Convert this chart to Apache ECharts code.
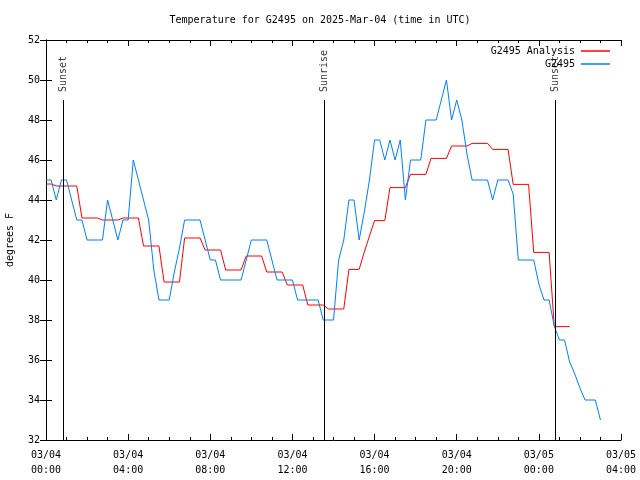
<!DOCTYPE html>
<html>
<head>
<meta charset="utf-8">
<script src="https://cdn.jsdelivr.net/npm/echarts@6/dist/echarts.min.js"></script>
<style>html,body{margin:0;padding:0;background:#fff}#c{width:640px;height:480px}</style>
</head>
<body>
<div id="c"></div>
<script>
// minutes from 2025-03-04 00:00 UTC
var obsTimes = [0,15,30,45,60,90,105,120,165,180,210,225,240,255,270,285,300,315,330,360,375,390,405,450,465,480,495,510,570,585,600,645,660,675,720,735,765,795,810,840,855,870,885,900,915,930,945,960,975,990,1005,1020,1035,1050,1065,1095,1110,1140,1155,1170,1185,1200,1215,1230,1245,1290,1305,1320,1350,1365,1380,1425,1440,1455,1470,1485,1500,1515,1530,1545,1560,1575,1605,1620];
var obsTemps = [45,45,44,45,45,43,43,42,42,44,42,43,43,46,45,44,43,40.5,39,39,40.4,41.6,43,43,42,41,41,40,40,41,42,42,41,40,40,39,39,39,38,38,41,42,44,44,42,43.4,45,47,47,46,47,46,47,44,46,46,48,48,49,50,48,49,48,46.3,45,45,44,45,45,44.3,41,41,39.8,39,39,37.7,37,37,35.9,35.3,34.6,34,34,33];
var anaTimes = [0,15,30,90,105,150,165,210,225,270,285,330,345,390,405,450,465,510,525,570,585,630,645,690,705,750,765,810,825,870,885,915,930,945,960,990,1005,1050,1065,1110,1125,1170,1185,1230,1245,1290,1305,1350,1365,1410,1425,1470,1485,1530];
var anaTemps = [44.8,44.8,44.7,44.7,43.1,43.1,43.0,43.0,43.1,43.1,41.7,41.7,39.9,39.9,42.1,42.1,41.5,41.5,40.5,40.5,41.2,41.2,40.4,40.4,39.75,39.75,38.75,38.75,38.55,38.55,40.53,40.53,41.4,42.2,42.97,42.97,44.62,44.62,45.28,45.28,46.08,46.08,46.7,46.7,46.83,46.83,46.53,46.53,44.78,44.78,41.38,41.38,37.67,37.67];
var sunTimes = [50, 812, 1489];
var sunNames = ['Sunset', 'Sunrise', 'Sunset'];
var xTickLabels = ['03/04\n00:00','03/04\n04:00','03/04\n08:00','03/04\n12:00','03/04\n16:00','03/04\n20:00','03/05\n00:00','03/05\n04:00'];
var titleText = 'Temperature for G2495 on 2025-Mar-04 (time in UTC)';

var FONT = "'DejaVu Sans Mono', 'Liberation Mono', monospace";
function zip(a, b) { return a.map(function (v, i) { return [v, b[i]]; }); }

var chart = echarts.init(document.getElementById('c'));
var axisBase = {
  axisLine: { show: true, lineStyle: { color: '#000', width: 1 } },
  splitLine: { show: false }
};
chart.setOption({
  animation: false,
  backgroundColor: '#fff',
  title: { text: titleText, left: 'center', top: 10, textStyle: { fontFamily: FONT, fontSize: 10, fontWeight: 'normal', color: '#000' } },
  legend: {
    data: ['G2495 Analysis', 'G2495'], orient: 'vertical', right: 30, top: 46, align: 'right', padding: 0,
    itemWidth: 29, itemHeight: 1.5, itemGap: 3, icon: 'rect',
    textStyle: { fontFamily: FONT, fontSize: 10, color: '#000', padding: [0, 1, 0, 0] }
  },
  grid: { left: 46, right: 19, top: 40, bottom: 40, containLabel: false, outerBoundsMode: 'none' },
  xAxis: [
    Object.assign({}, axisBase, {
      type: 'value', min: 0, max: 1680, interval: 240, position: 'bottom',
      axisTick: { show: true, inside: true, length: 6, lineStyle: { color: '#000' } },
      minorTick: { show: true, splitNumber: 4, length: 3, lineStyle: { color: '#000' } },
      axisLabel: { fontFamily: FONT, fontSize: 10, color: '#000', margin: 8, lineHeight: 15,
        formatter: function (v) { return xTickLabels[Math.round(v / 240)]; } }
    }),
    Object.assign({}, axisBase, {
      type: 'value', min: 0, max: 1680, interval: 240, position: 'top',
      axisTick: { show: true, inside: true, length: 6, lineStyle: { color: '#000' } },
      minorTick: { show: true, splitNumber: 4, length: 3, lineStyle: { color: '#000' } },
      axisLabel: { show: false }
    })
  ],
  yAxis: [
    Object.assign({}, axisBase, {
      type: 'value', min: 32, max: 52, interval: 2, position: 'left',
      name: 'degrees F', nameLocation: 'middle', nameRotate: 90, nameGap: 31,
      nameTextStyle: { fontFamily: FONT, fontSize: 10, color: '#000' },
      axisTick: { show: true, inside: true, length: 6, lineStyle: { color: '#000' } },
      axisLabel: { fontFamily: FONT, fontSize: 10, color: '#000', margin: 6 }
    }),
    Object.assign({}, axisBase, {
      type: 'value', min: 32, max: 52, interval: 2, position: 'right',
      axisTick: { show: true, inside: true, length: 6, lineStyle: { color: '#000' } },
      axisLabel: { show: false }
    })
  ],
  series: [
    {
      name: 'G2495 Analysis', type: 'line', data: zip(anaTimes, anaTemps), showSymbol: false, symbol: 'none',
      color: '#ff0000', lineStyle: { color: '#ff0000', width: 1 }, z: 3
    },
    {
      name: 'G2495', type: 'line', data: zip(obsTimes, obsTemps), showSymbol: false, symbol: 'none',
      color: '#0080ff', lineStyle: { color: '#0080ff', width: 1 }, z: 4,
      markLine: {
        silent: true, symbol: 'none', animation: false,
        lineStyle: { color: '#000', width: 1, type: 'solid' },
        label: { show: false },
        data: sunTimes.map(function (t) { return [{ coord: [t, 32] }, { coord: [t, 49] }]; })
      }
    },
    {
      name: 'sun', type: 'scatter', symbolSize: 0, silent: true,
      data: sunTimes.map(function (t, i) { return [t, 49, sunNames[i]]; }),
      label: { show: true, position: 'top', distance: 7, rotate: 90, align: 'left', verticalAlign: 'middle',
        fontFamily: FONT, fontSize: 10, color: '#000', offset: [1, 0],
        formatter: function (p) { return p.data[2]; } }
    }
  ]
});
</script>
</body>
</html>
